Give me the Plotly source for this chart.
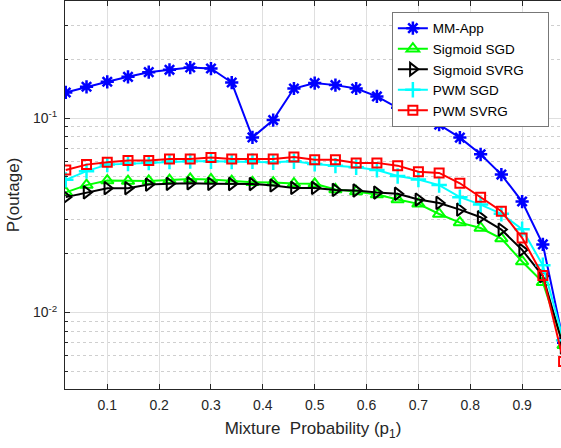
import plotly.graph_objects as go

# Mixture probability grid (p1)
p1 = [0.02, 0.06, 0.10, 0.14, 0.18, 0.22, 0.26, 0.30, 0.34, 0.38, 0.42, 0.46, 0.50,
      0.54, 0.58, 0.62, 0.66, 0.70, 0.74, 0.78, 0.82, 0.86, 0.90, 0.94, 0.98]

mm_app = [0.1353, 0.1447, 0.1535, 0.1628, 0.1721, 0.1769, 0.1817, 0.1796, 0.1522,
          0.0795, 0.0976, 0.1418, 0.1512, 0.1476, 0.1418, 0.1291, 0.1129, 0.0998,
          0.0924, 0.0793, 0.0651, 0.0512, 0.0372, 0.0224, 0.0070]

sigmoid_sgd = [0.0415, 0.0452, 0.0477, 0.0474, 0.0475, 0.0480, 0.0486, 0.0483, 0.0474,
               0.0467, 0.0466, 0.0460, 0.0459, 0.0429, 0.0419, 0.0404, 0.0381, 0.0362,
               0.0321, 0.0290, 0.0272, 0.0240, 0.0183, 0.0143, 0.0068]

sigmoid_svrg = [0.0392, 0.0415, 0.0436, 0.0436, 0.0455, 0.0459, 0.0462, 0.0459, 0.0458,
                0.0458, 0.0450, 0.0437, 0.0437, 0.0427, 0.0424, 0.0414, 0.0408, 0.0381,
                0.0366, 0.0338, 0.0309, 0.0267, 0.0210, 0.0154, 0.0066]

pwm_sgd = [0.0481, 0.0533, 0.0576, 0.0583, 0.0590, 0.0597, 0.0600, 0.0599, 0.0597,
           0.0599, 0.0592, 0.0599, 0.0581, 0.0569, 0.0558, 0.0541, 0.0503, 0.0483,
           0.0452, 0.0392, 0.0359, 0.0322, 0.0268, 0.0175, 0.0072]

pwm_svrg = [0.0541, 0.0576, 0.0592, 0.0604, 0.0604, 0.0616, 0.0616, 0.0626, 0.0616,
            0.0616, 0.0616, 0.0631, 0.0611, 0.0611, 0.0588, 0.0588, 0.0569, 0.0530,
            0.0522, 0.0462, 0.0392, 0.0332, 0.0242, 0.0155, 0.0056]

x_ticks = [0.1, 0.2, 0.3, 0.4, 0.5, 0.6, 0.7, 0.8, 0.9]
x_ticklabels = ["0.1", "0.2", "0.3", "0.4", "0.5", "0.6", "0.7", "0.8", "0.9"]
y_ticks = [0.01, 0.1]
y_ticklabels = ["10<sup>-2</sup>", "10<sup>-1</sup>"]
y_minor = [v * d for d in (0.001, 0.01, 0.1) for v in range(2, 10)]

NBSP = "\u00a0"
series = [
    ("MM-App", mm_app, "#0000ff", "asterisk-open", 11, 2.5),
    ("Sigmoid SGD", sigmoid_sgd, "#00ff00", "triangle-up-open", 11, 2),
    ("Sigmoid SVRG" + NBSP * 5, sigmoid_svrg, "#000000", "triangle-right-open", 11, 2),
    ("PWM SGD", pwm_sgd, "#00ffff", "cross-thin-open", 11, 2.5),
    ("PWM SVRG", pwm_svrg, "#ff0000", "square-open", 9, 2),
]

fig = go.Figure()
for name, vals, color, sym, size, mlw in series:
    fig.add_trace(go.Scatter(
        x=p1, y=vals, name=name, mode="lines+markers",
        line=dict(color=color, width=2),
        marker=dict(symbol=sym, size=size, color=color,
                    line=dict(color=color, width=mlw)),
    ))

axis_color = "#262626"
font_family = "Liberation Sans, Arial, Helvetica, sans-serif"

fig.update_layout(
    width=561, height=448,
    margin=dict(l=65, r=0, t=1, b=59),
    paper_bgcolor="white", plot_bgcolor="white",
    font=dict(family=font_family, size=14, color=axis_color),
    showlegend=True,
    legend=dict(
        x=0.659, y=0.972, xanchor="left", yanchor="top",
        bgcolor="white", bordercolor="#777777", borderwidth=1,
        font=dict(size=13.5, color="#000000"),
        tracegroupgap=0, itemwidth=30,
    ),
)

fig.update_xaxes(
    range=[0.0185, 0.975],
    tickmode="array", tickvals=x_ticks, ticktext=x_ticklabels,
    ticks="inside", ticklen=5, tickcolor=axis_color,
    showline=True, linecolor=axis_color, linewidth=1, mirror="ticks",
    showgrid=True, gridcolor="#dfdfdf", gridwidth=1,
    zeroline=False,
    tickfont=dict(size=14, color=axis_color),
    ticklabelstandoff=3,
    title=dict(text="Mixture\u00a0 Probability (p<sub>1</sub>)",
               font=dict(size=17, color=axis_color), standoff=10),
)

fig.update_yaxes(
    type="log", range=[-2.393, -0.3985],
    tickmode="array", tickvals=y_ticks, ticktext=y_ticklabels,
    ticks="inside", ticklen=5, tickcolor=axis_color,
    showline=True, linecolor=axis_color, linewidth=1, mirror=False,
    showgrid=True, gridcolor="#dfdfdf", gridwidth=1,
    zeroline=False,
    tickfont=dict(size=14, color=axis_color),
    ticklabelstandoff=4,
    title=dict(text="P(outage)", font=dict(size=17, color=axis_color), standoff=8),
    minor=dict(tickmode="array", tickvals=y_minor, ticks="inside", ticklen=3,
               tickcolor=axis_color, showgrid=True, gridcolor="#cfcfcf",
               griddash="dot", gridwidth=1),
)

fig.write_html("out.html")
